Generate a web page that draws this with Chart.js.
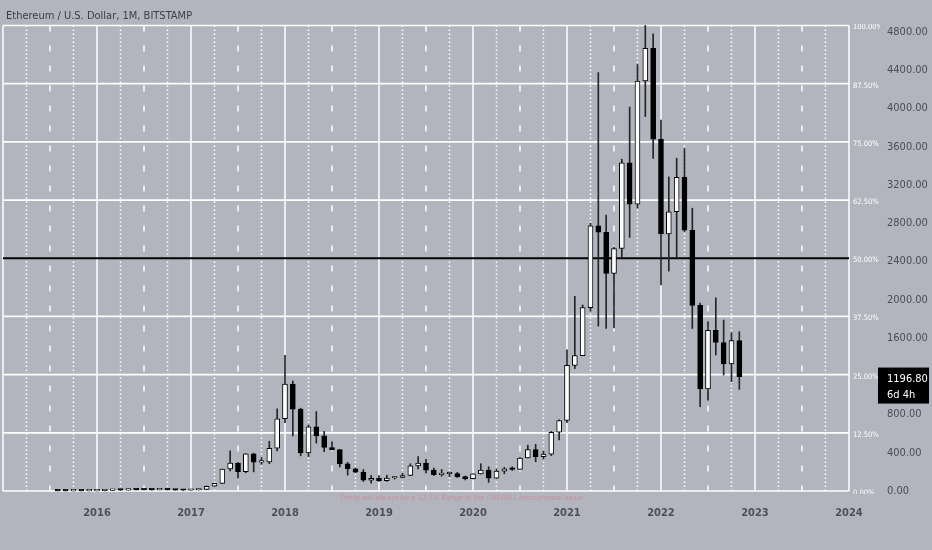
<!DOCTYPE html>
<html>
<head>
<meta charset="utf-8">
<title>Ethereum / U.S. Dollar, 1M, BITSTAMP</title>
<script src="https://cdn.jsdelivr.net/npm/chart.js@4.4.1/dist/chart.umd.min.js"></script>
<style>
  html, body { margin: 0; padding: 0; background: #b2b5be; overflow: hidden; }
  #wrap { width: 932px; height: 550px; }
</style>
</head>
<body>
<div id="wrap"><canvas id="ethChart" width="932" height="550"></canvas></div>
<script>
// Monthly candles, Aug 2015 .. Nov 2022
const firstMonth = '2015-08';
const opens = [
  2.8, 1.4, 0.73, 1.0, 0.87,
  0.93, 2.2, 6.3, 11.4, 8.8, 14, 12.3, 11.6, 11.5, 13.2, 11.1, 8.6,
  8.0, 10.7, 15.7, 50, 80, 230, 293, 201, 388, 302, 305, 447,
  756, 1118, 856, 397, 670, 577, 455, 433, 283, 233, 197, 113,
  133, 107, 136, 141, 162, 262, 291, 218, 172, 180, 183, 151,
  129, 179, 218, 133, 207, 231, 226, 345, 434, 360, 386, 614,
  737, 1314, 1416, 1918, 2773, 2706, 2275, 2536, 3433, 3000, 4288, 4630,
  3680, 2688, 2920, 3280, 2727, 1942, 1067, 1680, 1553, 1328, 1572
];
const highs = [
  3.0, 1.5, 1.2, 1.2, 1.0,
  2.5, 6.7, 15, 12.5, 15, 21, 14.8, 12.6, 14, 14, 11.4, 8.7,
  11.3, 16, 54, 81, 230, 420, 296, 390, 395, 350, 520, 860,
  1420, 1150, 866, 690, 830, 625, 515, 433, 300, 240, 225, 165,
  160, 165, 145, 185, 285, 360, 330, 240, 225, 198, 195, 155,
  180, 285, 253, 228, 247, 253, 350, 480, 488, 420, 623, 745,
  1475, 2036, 1945, 2800, 4375, 2886, 2550, 3470, 4015, 4460, 4868, 4780,
  3880, 3285, 3480, 3580, 2957, 1966, 1770, 2021, 1788, 1655, 1666
];
const lows = [
  0.7, 0.6, 0.4, 0.8, 0.8,
  0.9, 2.1, 6.3, 7.0, 8.8, 11, 10, 9.5, 11.3, 10.4, 8.6, 6.7,
  7.9, 10.5, 15.5, 47, 79, 210, 136, 190, 200, 280, 285, 420,
  715, 575, 368, 360, 500, 410, 430, 250, 165, 190, 100, 81,
  100, 101, 125, 135, 160, 232, 189, 161, 155, 151, 140, 117,
  126, 177, 90, 130, 180, 215, 225, 345, 306, 335, 370, 533,
  715, 1280, 1440, 1880, 1725, 1700, 1705, 2450, 2652, 2960, 3915, 3478,
  2154, 2300, 2437, 2713, 1700, 882, 951, 1422, 1213, 1143, 1063
];
const closes = [
  1.4, 0.73, 1.0, 0.87, 0.93,
  2.2, 6.3, 11.4, 8.8, 14, 12.3, 11.6, 11.5, 13.2, 11.1, 8.6, 8.0,
  10.7, 15.7, 50, 80, 230, 293, 201, 388, 302, 305, 447, 756,
  1118, 856, 397, 670, 577, 455, 433, 283, 233, 197, 113, 133,
  107, 136, 141, 162, 262, 291, 218, 172, 180, 183, 151, 129,
  179, 218, 133, 207, 231, 226, 345, 434, 360, 386, 614, 737,
  1314, 1416, 1918, 2773, 2706, 2275, 2536, 3433, 3000, 4288, 4630, 3680,
  2688, 2920, 3280, 2727, 1942, 1067, 1680, 1553, 1328, 1572, 1196.80
];

// Axes and range box
const yearLabels = ['2016', '2017', '2018', '2019', '2020', '2021', '2022', '2023', '2024'];
const priceTicks = [0, 400, 800, 1600, 2000, 2400, 2800, 3200, 3600, 4000, 4400, 4800];
const levelPercents = [0, 12.5, 25, 37.5, 50, 62.5, 75, 87.5, 100];
const boxFrom = '2015-01';
const boxTo = '2024-01';
const countdown = '6d 4h';
const noteText = 'These will always be a 12.5% Range of the OVERALL instrumental value';
const noteFrom = '2018-08';

const FONT = '"Liberation Sans Narrow", "DejaVu Sans Condensed", "Liberation Sans", sans-serif';

// months since Jan 2015
function monthIndex(s) {
  const [y, m] = s.split('-').map(Number);
  return (y - 2015) * 12 + (m - 1);
}

const start = monthIndex(firstMonth);
const rangeHigh = Math.max(...highs);
const lastClose = closes[closes.length - 1];

const wickData = highs.map((h, i) => ({ x: start + i, y: [lows[i], h] }));
const bodyData = opens.map((o, i) => ({ x: start + i, y: [o, closes[i]] }));
const bodyColors = opens.map((o, i) => closes[i] >= o ? '#ffffff' : '#000000');

// grid box, range levels and percent labels
const rangeBox = {
  id: 'rangeBox',
  beforeDatasetsDraw(chart) {
    const { ctx, chartArea, scales: { x, y } } = chart;
    const top = y.getPixelForValue(rangeHigh);
    const bottom = y.getPixelForValue(0);
    const left = x.getPixelForValue(monthIndex(boxFrom));
    const right = x.getPixelForValue(monthIndex(boxTo));

    ctx.save();
    ctx.strokeStyle = '#ffffff';
    ctx.lineWidth = 1.5;
    for (let m = monthIndex(boxFrom); m <= monthIndex(boxTo); m += 3) {
      const px = x.getPixelForValue(m);
      if (m % 12 === 0) ctx.setLineDash([]);
      else if (m % 12 === 6) ctx.setLineDash([6, 14]);
      else ctx.setLineDash([1.5, 2.5]);
      ctx.beginPath();
      ctx.moveTo(px, top);
      ctx.lineTo(px, bottom);
      ctx.stroke();
    }
    ctx.setLineDash([]);

    levelPercents.forEach(p => {
      const py = y.getPixelForValue(rangeHigh * p / 100);
      ctx.strokeStyle = p === 50 ? '#000000' : '#ffffff';
      ctx.lineWidth = p === 50 ? 2 : 1.7;
      ctx.beginPath();
      ctx.moveTo(left, py);
      ctx.lineTo(right, py);
      ctx.stroke();
    });

    ctx.beginPath();
    ctx.rect(chartArea.left, chartArea.top, chartArea.right - chartArea.left, chartArea.bottom - chartArea.top);
    ctx.clip();
    ctx.fillStyle = '#ffffff';
    ctx.font = '7.5px ' + FONT;
    ctx.textAlign = 'left';
    ctx.textBaseline = 'middle';
    levelPercents.forEach(p => {
      const py = y.getPixelForValue(rangeHigh * p / 100);
      ctx.fillText(p.toFixed(2) + '%', right + 4, py + 2);
    });
    ctx.restore();
  },
  afterDraw(chart) {
    const { ctx, chartArea, scales: { x, y } } = chart;
    ctx.save();
    // title
    ctx.fillStyle = '#3b3e47';
    ctx.font = '11px ' + FONT;
    ctx.textAlign = 'left';
    ctx.textBaseline = 'middle';
    ctx.fillText('Ethereum / U.S. Dollar, 1M, BITSTAMP', 6, 16);

    // note under the box
    ctx.fillStyle = 'rgba(222, 120, 140, 0.6)';
    ctx.font = '7.5px ' + FONT;
    ctx.textAlign = 'left';
    ctx.fillText(noteText, x.getPixelForValue(monthIndex(noteFrom)), y.getPixelForValue(0) + 7);

    // last price tag
    const py = y.getPixelForValue(lastClose);
    ctx.fillStyle = '#000000';
    ctx.fillRect(chartArea.right - 2, py - 9, 51, 36);
    ctx.fillStyle = '#ffffff';
    ctx.textAlign = 'left';
    ctx.font = '11px ' + FONT;
    ctx.fillText(lastClose.toFixed(2), chartArea.right + 7, py + 2.5);
    ctx.fillText(countdown, chartArea.right + 7, py + 18.5);
    ctx.restore();
  }
};

new Chart(document.getElementById('ethChart'), {
  type: 'bar',
  data: {
    datasets: [
      {
        label: 'wick',
        data: wickData,
        backgroundColor: '#262626',
        barThickness: 1,
        grouped: false,
        order: 1
      },
      {
        label: 'body',
        data: bodyData,
        backgroundColor: bodyColors,
        borderColor: '#000000',
        borderWidth: 1,
        borderSkipped: false,
        barThickness: 5,
        minBarLength: 1.5,
        grouped: false,
        order: 0
      }
    ]
  },
  options: {
    responsive: false,
    animation: false,
    devicePixelRatio: 1,
    layout: { padding: { top: 24, left: 0, right: 0, bottom: 0 } },
    plugins: { legend: { display: false }, tooltip: { enabled: false } },
    scales: {
      x: {
        type: 'linear',
        min: -0.383,
        max: 111.96,
        offset: false,
        grid: { display: false, drawTicks: false },
        border: { display: false },
        afterFit: s => { s.height = 56; },
        afterBuildTicks: s => { s.ticks = yearLabels.map(v => ({ value: monthIndex(v + '-01') })); },
        ticks: {
          autoSkip: false,
          maxRotation: 0,
          padding: 13,
          color: '#4d505a',
          font: { family: FONT, size: 11, weight: 'bold' },
          callback: v => String(2015 + v / 12)
        }
      },
      y: {
        position: 'right',
        min: -31.4,
        max: 4883.7,
        grid: { display: false, drawTicks: false },
        border: { display: false },
        afterFit: s => { s.width = 52; },
        afterBuildTicks: s => { s.ticks = priceTicks.map(v => ({ value: v })); },
        ticks: {
          autoSkip: false,
          padding: 7,
          color: '#4a4d57',
          font: { family: FONT, size: 11 },
          callback: v => v.toFixed(2)
        }
      }
    }
  },
  plugins: [rangeBox]
});
</script>
</body>
</html>
